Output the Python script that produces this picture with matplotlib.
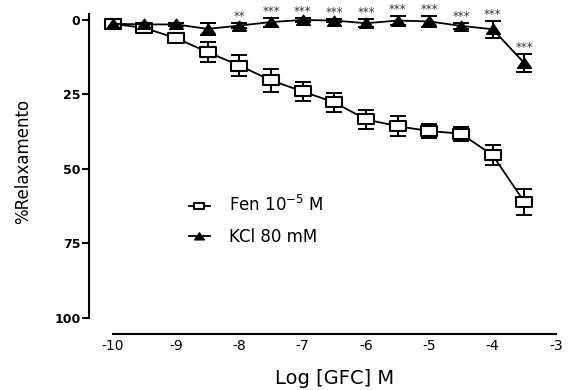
import matplotlib
matplotlib.use("Agg")
import matplotlib.pyplot as plt
from matplotlib.path import Path

# log concentration of GFC (M)
log_conc = [-10, -9.5, -9, -8.5, -8, -7.5, -7, -6.5, -6, -5.5, -5, -4.5, -4, -3.5]

# % relaxamento, mean and SEM
fen_mean = [1.3, 2.7, 6.1, 10.8, 15.3, 20.3, 24.0, 27.7, 33.4, 35.7, 37.3, 38.2, 45.4, 61.1]
fen_sem = [0.8, 0.8, 1.2, 3.3, 3.6, 3.8, 3.3, 3.3, 3.3, 3.3, 2.3, 2.4, 3.4, 4.3]
kcl_mean = [1.3, 1.5, 1.5, 3.0, 1.9, 0.7, 0.0, 0.2, 1.1, 0.2, 0.5, 2.0, 3.1, 14.5]
kcl_sem = [0.5, 0.5, 0.5, 2.0, 0.8, 1.5, 0.6, 0.6, 1.4, 1.5, 1.8, 1.0, 2.8, 2.9]
signif = ["", "", "", "", "**", "***", "***", "***", "***", "***", "***", "***", "***", "***"]

labels = ["Fen 10$^{-5}$ M", "KCl 80 mM"]
y_ticks = [0, 25, 50, 75, 100]
x_ticks = [-10, -9, -8, -7, -6, -5, -4, -3]

# stretched markers (the original figure is wider than tall)
rect = Path([(-0.8, -0.5), (0.8, -0.5), (0.8, 0.5), (-0.8, 0.5), (-0.8, -0.5)],
            [Path.MOVETO, Path.LINETO, Path.LINETO, Path.LINETO, Path.CLOSEPOLY])
tri = Path([(-0.65, -0.45), (0.65, -0.45), (0, 0.5), (-0.65, -0.45)],
           [Path.MOVETO, Path.LINETO, Path.LINETO, Path.CLOSEPOLY])

fig = plt.figure(figsize=(5.73, 3.90), dpi=100)
ax = fig.add_axes([0.1558, 0.1854, 0.8366, 0.7787])

ax.errorbar(log_conc, fen_mean, yerr=fen_sem, fmt="none", ecolor="black",
            elinewidth=1.4, capsize=5.5, capthick=1.4, zorder=2)
ax.errorbar(log_conc, kcl_mean, yerr=kcl_sem, fmt="none", ecolor="black",
            elinewidth=1.4, capsize=5.5, capthick=1.4, zorder=2)
ax.plot(log_conc, fen_mean, color="black", lw=1.3, marker=rect, ms=11,
        mfc="white", mec="black", mew=1.5, label=labels[0], zorder=3)
ax.plot(log_conc, kcl_mean, color="black", lw=1.3, marker=tri, ms=10,
        mfc="black", mec="black", mew=1, label=labels[1], zorder=4)

for x, m, s, t in zip(log_conc, kcl_mean, kcl_sem, signif):
    if t:
        ax.annotate(t, (x, m - s), xytext=(0, 0), textcoords="offset points",
                    ha="center", va="bottom", fontsize=8.5, color="#333333")

ax.set_xlim(-10.37, -2.8)
ax.set_ylim(100, -2)
ax.set_yticks(y_ticks)
ax.set_xticks(x_ticks)
ax.set_yticklabels([str(v) for v in y_ticks])
ax.set_xticklabels([str(v) for v in x_ticks])
for lab in ax.get_xticklabels() + ax.get_yticklabels():
    lab.set_fontweight("bold")
    lab.set_fontsize(9)
ax.tick_params(axis="y", length=4.8, width=1.5, pad=1.5)
ax.tick_params(axis="x", length=0, pad=3.5)

for side in ["top", "right"]:
    ax.spines[side].set_visible(False)
ax.spines["left"].set_linewidth(1.5)
ax.spines["bottom"].set_linewidth(1.5)
ax.spines["bottom"].set_position(("outward", 12))
ax.spines["bottom"].set_bounds(-10, -3)

ax.set_xlabel("Log [GFC] M", fontsize=14)
ax.xaxis.label.set_va("center")
ax.xaxis.set_label_coords(0.511, -0.1986)
ax.set_ylabel("%Relaxamento", fontsize=12)
ax.yaxis.label.set_va("center")
ax.yaxis.set_label_coords(-0.1383, 0.514)

ax.legend(loc="upper left", bbox_to_anchor=(0.207, 0.403), frameon=False,
          fontsize=12, handlelength=1.3, handletextpad=1.1, labelspacing=0.75,
          markerscale=0.7, borderpad=0, borderaxespad=0)

fig.savefig("out.png", dpi=100)
